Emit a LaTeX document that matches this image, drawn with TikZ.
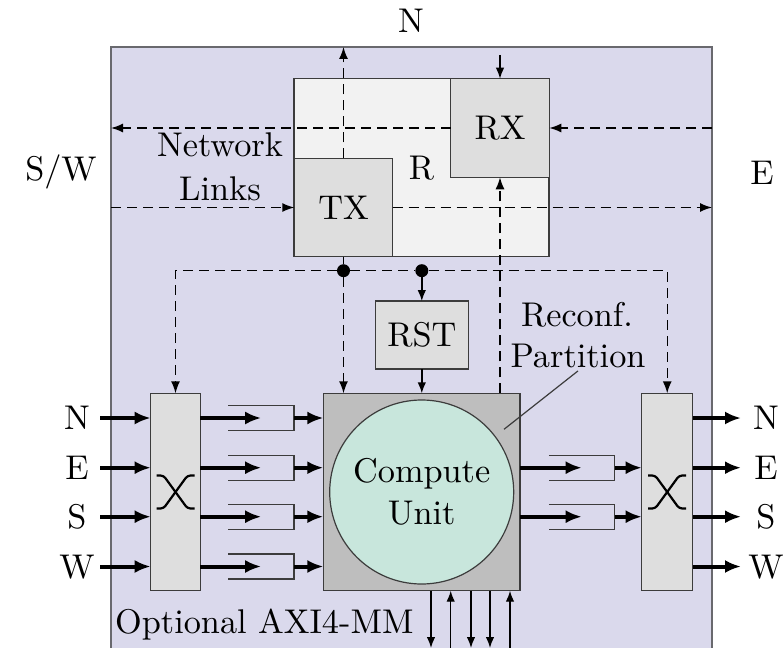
\documentclass[tikz,border=0pt]{standalone}
\usetikzlibrary{arrows.meta}
% Latin Modern at its 10pt design size, used at every size
\DeclareFontFamily{TU}{lmten}{}
\DeclareFontShape{TU}{lmten}{m}{n}{<-> \UnicodeFontFile{lmroman10-regular}{\UnicodeFontTeXLigatures}}{}
\definecolor{tilebg}{RGB}{218,217,236}
\definecolor{tileedge}{RGB}{105,105,110}
\definecolor{edgegray}{RGB}{60,60,60}
\definecolor{rbg}{RGB}{242,242,242}
\definecolor{unitbg}{RGB}{222,222,222}
\definecolor{cubg}{RGB}{190,190,190}
\definecolor{mint}{RGB}{200,230,220}
\begin{document}
\begin{tikzpicture}[x=1pt,y=-1pt,
  font=\fontfamily{lmten}\fontsize{34.3}{42}\selectfont,
  box/.style={draw=edgegray,line width=1.4pt,inner sep=0pt,outer sep=0pt},
  link/.style={line width=1.4pt,dash pattern=on 10pt off 6pt,-{Latex[length=12pt,width=9pt]}},
  wire/.style={line width=1.4pt,-{Latex[length=11pt,width=8.5pt]}},
  bus/.style={line width=4pt,-{Latex[length=16pt,width=13pt]}},
  fifo/.style={minimum width=65.7pt,minimum height=25pt,inner sep=0pt,outer sep=0pt},
  lbl/.style={inner sep=0pt,text height=23.4pt,text depth=0pt},
  txt/.style={anchor=base,inner sep=0pt},
  xglyph/.style={line width=2.2pt,rounded corners=3pt},
]
\useasboundingbox (0,0) rectangle (783,647);
\clip (0,0) rectangle (783,647);

% tile background
\node[box,draw=tileedge,fill=tilebg,minimum width=601pt,minimum height=640pt] (tile) at (411.5,367) {};

% router with its transmit and receive ports
\node[box,fill=rbg,minimum width=255pt,minimum height=178pt] (R) at (421.5,167.7) {R};
\node[box,fill=unitbg,minimum size=98.6pt] (RX) at (500,128) {RX};
\node[box,fill=unitbg,minimum size=98.4pt] (TX) at (343.5,207.5) {TX};

% reset block, compute unit and crossbars
\node[box,fill=unitbg,minimum width=93pt,minimum height=68pt] (RST) at (421.8,335) {RST};
\node[box,fill=cubg,minimum width=196.7pt,minimum height=197.4pt] (CU) at (421.7,492) {};
\node[draw=edgegray,line width=1.2pt,fill=mint,circle,minimum size=184pt,inner sep=0pt,align=center] (core) at (CU.center) {Compute\\Unit};
\node[box,fill=unitbg,minimum width=49.6pt,minimum height=197.4pt] (XL) at (175.5,492) {};
\node[box,fill=unitbg,minimum width=51pt,minimum height=197.4pt] (XR) at (667.2,492) {};

% crossbar symbols
\foreach \xb in {XL,XR}{
  \draw[xglyph] ([shift={(-19,-16.5)}]\xb.center) -- ++(7,0) -- ([shift={(12,16.5)}]\xb.center) -- ++(7,0);
  \draw[xglyph] ([shift={(19,-16.5)}]\xb.center) -- ++(-7,0) -- ([shift={(-12,16.5)}]\xb.center) -- ++(-7,0);
}

% stream buffers
\node[fifo] (fl1) at (261.2,418) {};
\node[fifo] (fl2) at (261.2,467.7) {};
\node[fifo] (fl3) at (261.2,516.7) {};
\node[fifo] (fl4) at (261.2,566.5) {};
\node[fifo] (fr1) at (581.7,467.7) {};
\node[fifo] (fr2) at (581.7,516.7) {};
\foreach \f in {fl1,fl2,fl3,fl4,fr1,fr2}
  \draw[line width=1.4pt,draw=edgegray] (\f.north west) -- (\f.north east) -- (\f.south east) -- (\f.south west);
\foreach \f in {fl1,fl2,fl3,fl4}{
  \draw[bus] (XL.east |- \f.center) -- (\f.center);
  \draw[bus] (\f.east) -- (CU.west |- \f.east);
}
\foreach \f in {fr1,fr2}{
  \draw[bus] (CU.east |- \f.center) -- (\f.center);
  \draw[bus] (\f.east) -- (XR.west |- \f.east);
}

% stream inputs and outputs
\foreach \d/\yy in {N/418,E/467.7,S/516.7,W/566.5}{
  \coordinate (in\d) at (100,\yy);
  \coordinate (out\d) at (741,\yy);
  \node[lbl] (lin\d) at (77,\yy) {\d};
  \node[lbl] (lout\d) at (766,\yy) {\d};
  \draw[bus] (in\d) -- (XL.west |- in\d);
  \draw[bus] (XR.east |- out\d) -- (out\d);
}

% network links
\draw[link] (RX.west) -- (tile.west |- RX.west);
\draw[link] (tile.east |- RX.east) -- (RX.east);
\draw[link] (tile.west |- TX.west) -- (TX.west);
\draw[link] (TX.east) -- (tile.east |- TX.east);
\draw[link] (TX.north) -- (tile.north -| TX.north);
\coordinate (rxin) at (500,55);
\draw[wire] (rxin) -- (RX.north);
\draw[link] (CU.north -| RX.south) -- (RX.south);

% configuration taps
\node[circle,fill=black,inner sep=0pt,minimum size=13pt] (tap1) at (343.5,270.7) {};
\node[circle,fill=black,inner sep=0pt,minimum size=13pt] (tap2) at (421.8,270.7) {};
\draw[line width=1.4pt] (TX.south) -- (tap1);
\draw[link] (tap1) -| (XL.north);
\draw[link,-] (tap1) -- (tap2);
\draw[link] (tap2) -| (XR.north);
\draw[link] (tap1) -- (CU.north -| tap1);
\draw[wire] (tap2) -- (RST.north);
\draw[wire] (RST.south) -- (CU.north -| RST.south);

% memory-mapped interface
\coordinate (axd1) at (431,648);
\coordinate (axu1) at (450.7,648);
\coordinate (axd2) at (471,648);
\coordinate (axd3) at (490,648);
\coordinate (axu2) at (510,648);
\foreach \a in {axd1,axd2,axd3}
  \draw[wire] (CU.south -| \a) -- (\a);
\foreach \a in {axu1,axu2}
  \draw[wire] (\a) -- (CU.south -| \a);

% labels
\node[txt] (dirN) at (411,33) {N};
\node[txt] (dirSW) at (61,180.7) {S/W};
\node[txt] (dirE) at (762,184) {E};
\node[txt] (netA) at (220,157) {Network};
\node[txt] (netB) at (220,200) {Links};
\node[txt] (reconfA) at (577,326) {Reconf.};
\node[anchor=base] (reconfB) at (578,367) {Partition};
\coordinate (rp) at (504,429.3);
\draw[line width=1.2pt,draw=edgegray] (rp) -- (reconfB.south);
\node[anchor=base west,inner sep=0pt] (axi) at (115,633) {Optional AXI4-MM};
\end{tikzpicture}
\end{document}
